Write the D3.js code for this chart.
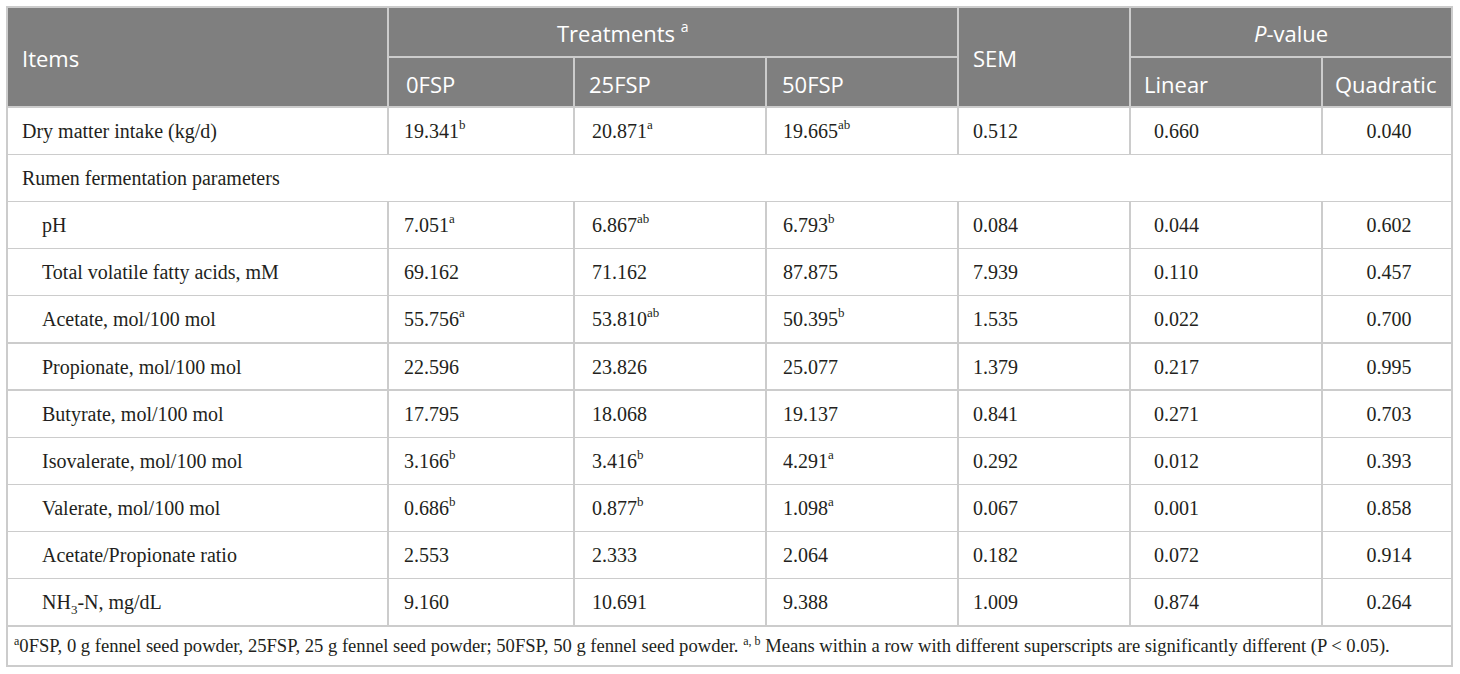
<!DOCTYPE html>
<html>
<head>
<meta charset="utf-8">
<script src="https://cdn.jsdelivr.net/npm/d3@7"></script>
<style>
  html, body { margin: 0; padding: 0; background: #fff; }
  svg { display: block; }
</style>
</head>
<body>
<svg id="table" width="1460" height="674"></svg>
<script>
// table content
const treatments = ['0FSP', '25FSP', '50FSP']
const pLabels = ['Linear', 'Quadratic']

const items = [
  'Dry matter intake (kg/d)',
  'Rumen fermentation parameters',
  'pH',
  'Total volatile fatty acids, mM',
  'Acetate, mol/100 mol',
  'Propionate, mol/100 mol',
  'Butyrate, mol/100 mol',
  'Isovalerate, mol/100 mol',
  'Valerate, mol/100 mol',
  'Acetate/Propionate ratio',
  'NH3-N, mg/dL'
]
const indented = [false, false, true, true, true, true, true, true, true, true, true]

const fsp0 = ['19.341', null, '7.051', '69.162', '55.756', '22.596', '17.795', '3.166', '0.686', '2.553', '9.160']
const fsp25 = ['20.871', null, '6.867', '71.162', '53.810', '23.826', '18.068', '3.416', '0.877', '2.333', '10.691']
const fsp50 = ['19.665', null, '6.793', '87.875', '50.395', '25.077', '19.137', '4.291', '1.098', '2.064', '9.388']
const sup0 = ['b', null, 'a', '', 'a', '', '', 'b', 'b', '', '']
const sup25 = ['a', null, 'ab', '', 'ab', '', '', 'b', 'b', '', '']
const sup50 = ['ab', null, 'b', '', 'b', '', '', 'a', 'a', '', '']
const sem = ['0.512', null, '0.084', '7.939', '1.535', '1.379', '0.841', '0.292', '0.067', '0.182', '1.009']
const pLinear = ['0.660', null, '0.044', '0.110', '0.022', '0.217', '0.271', '0.012', '0.001', '0.072', '0.874']
const pQuad = ['0.040', null, '0.602', '0.457', '0.700', '0.995', '0.703', '0.393', '0.858', '0.914', '0.264']

const footnote = [
  { t: 'a', sup: true },
  { t: '0FSP, 0 g fennel seed powder, 25FSP, 25 g fennel seed powder; 50FSP, 50 g fennel seed powder. ' },
  { t: 'a, b', sup: true },
  { t: ' Means within a row with different superscripts are significantly different (P < 0.05).' }
]

// layout
const tLeft = 7, tRight = 1452, tTop = 7, headMid = 57, headBottom = 107, bodyBottom = 626, tBottom = 666
const colEdges = [tLeft, 388, 574, 766, 958, 1130, 1322, tRight]
const headX = [22, 406, 589, 782, 973, 1144, 1335]
const valX = [22, 404, 592, 783, 973, 1154, (1322 + 1452) / 2 + 2]
const headFill = '#7f7f7f'
const lineColor = '#cccccc'
const ink = '#231f20'
const serif = '"Liberation Serif", "Times New Roman", serif'
const sans = '"Open Sans", "Noto Sans", sans-serif'

const svg = d3.select('#table')

const y = d3.scaleBand()
  .domain(d3.range(items.length))
  .range([headBottom, bodyBottom])

// header background
svg.append('rect')
  .attr('x', tLeft).attr('y', tTop)
  .attr('width', tRight - tLeft).attr('height', headBottom - tTop)
  .attr('fill', headFill)

const lines = svg.append('g')
  .attr('stroke', lineColor)
  .attr('stroke-width', 1.3)
  .attr('shape-rendering', 'crispEdges')

const hline = (x1, x2, yy) => lines.append('line').attr('x1', x1).attr('x2', x2).attr('y1', yy).attr('y2', yy)
const vline = (xx, y1, y2) => lines.append('line').attr('x1', xx).attr('x2', xx).attr('y1', y1).attr('y2', y2)

// header grid
;[1, 4, 5].forEach(i => vline(colEdges[i], tTop, headBottom))
;[2, 3, 6].forEach(i => vline(colEdges[i], headMid, headBottom))
hline(colEdges[1], colEdges[4], headMid)
hline(colEdges[5], tRight, headMid)

// body grid
items.forEach((label, i) => {
  hline(tLeft, tRight, y(i))
  if (fsp0[i] !== null) {
    colEdges.slice(1, -1).forEach(cx => vline(cx, y(i), y(i) + y.bandwidth()))
  }
})
hline(tLeft, tRight, bodyBottom)

// outer border
lines.append('rect')
  .attr('x', tLeft).attr('y', tTop)
  .attr('width', tRight - tLeft).attr('height', tBottom - tTop)
  .attr('fill', 'none')

// header text
const head = svg.append('g')
  .attr('fill', '#fff')
  .attr('font-family', sans)
  .attr('font-size', 22)

const row1Base = 42, row2Base = 93, spanBase = 67
head.append('text').attr('x', headX[0]).attr('y', spanBase).text('Items')
const tr = head.append('text').attr('x', 557).attr('y', row1Base)
tr.append('tspan').text('Treatments ')
tr.append('tspan').attr('font-size', 14).attr('dy', -10).text('a')
head.append('text').attr('x', headX[4]).attr('y', spanBase).text('SEM')
const pv = head.append('text').attr('x', (colEdges[5] + tRight) / 2).attr('y', row1Base).attr('text-anchor', 'middle')
pv.append('tspan').attr('font-style', 'italic').text('P')
pv.append('tspan').text('-value')
treatments.forEach((t, i) => {
  head.append('text').attr('x', headX[i + 1]).attr('y', row2Base).text(t)
})
pLabels.forEach((t, i) => {
  head.append('text').attr('x', headX[i + 5]).attr('y', row2Base).text(t)
})

// body text
const body = svg.append('g')
  .attr('fill', ink)
  .attr('font-family', serif)
  .attr('font-size', 20)

const cellText = (x, yy, val, sup, anchor) => {
  const t = body.append('text').attr('x', x).attr('y', yy).attr('text-anchor', anchor || 'start')
  t.append('tspan').text(val)
  if (sup) t.append('tspan').attr('font-size', 13).attr('dy', -9).text(sup)
  return t
}

items.forEach((label, i) => {
  const yy = y(i) + y.bandwidth() / 2 + 7
  const lt = body.append('text').attr('x', indented[i] ? 42 : 22).attr('y', yy)
  if (label.startsWith('NH3')) {
    lt.append('tspan').text('NH')
    lt.append('tspan').attr('font-size', 13).attr('dy', 5).text('3')
    lt.append('tspan').attr('dy', -5).text(label.slice(3))
  } else {
    lt.text(label)
  }
  if (fsp0[i] === null) return
  cellText(valX[1], yy, fsp0[i], sup0[i])
  cellText(valX[2], yy, fsp25[i], sup25[i])
  cellText(valX[3], yy, fsp50[i], sup50[i])
  cellText(valX[4], yy, sem[i])
  cellText(valX[5], yy, pLinear[i])
  cellText(valX[6], yy, pQuad[i], null, 'middle')
})

// footnote
const fy = (bodyBottom + tBottom) / 2 + 6
const fn = body.append('text').attr('x', 14).attr('y', fy).attr('font-size', 18.6)
footnote.forEach((part, k) => {
  if (part.sup) {
    fn.append('tspan').attr('font-size', 12).attr('dy', -7).text(part.t)
  } else {
    fn.append('tspan').attr('dy', k ? 7 : 0).text(part.t)
  }
})
</script>
</body>
</html>
